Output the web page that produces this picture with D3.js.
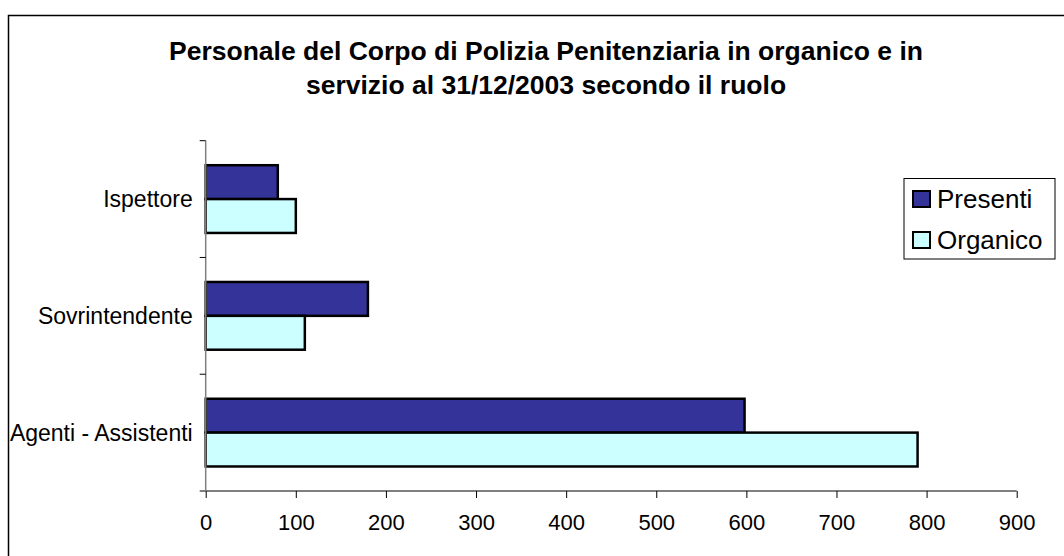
<!DOCTYPE html>
<html>
<head>
<meta charset="utf-8">
<script src="https://cdn.jsdelivr.net/npm/d3@7"></script>
<style>
  body { margin: 0; background: #fff; }
  svg text { font-family: "Liberation Sans", Arial, sans-serif; }
</style>
</head>
<body>
<svg id="chart" width="1064" height="556"></svg>
<script>
// data
var categories = ["Ispettore", "Sovrintendente", "Agenti - Assistenti"];
var seriesNames = ["Presenti", "Organico"];
var presenti = [80, 180, 598];
var organico = [100, 110, 790];
var xTicks = [0, 100, 200, 300, 400, 500, 600, 700, 800, 900];
var titleLines = ["Personale del Corpo di Polizia Penitenziaria in organico e in",
                  "servizio al 31/12/2003 secondo il ruolo"];

var colors = {Presenti: "#333399", Organico: "#CCFFFF"};

var svg = d3.select("#chart");

// outer chart frame (only top and left edges are inside the picture)
svg.append("rect")
    .attr("x", 8.5).attr("y", 15.5)
    .attr("width", 1200).attr("height", 700)
    .attr("fill", "none").attr("stroke", "#000").attr("stroke-width", 1.5);

var margin = {left: 205.7, right: 1016.7, top: 140.7, bottom: 491};

var x = d3.scaleLinear().domain([0, 900]).range([margin.left, margin.right]);
var y = d3.scaleBand().domain(categories).range([margin.top, margin.bottom]).paddingInner(0.42).paddingOuter(0.21);
var ySub = d3.scaleBand().domain(seriesNames).range([0, y.bandwidth()]);

// title
svg.append("g").selectAll("text")
    .data(titleLines)
    .enter().append("text")
    .attr("x", 546)
    .attr("y", function(d, i) { return 59.5 + i * 34.5; })
    .attr("text-anchor", "middle")
    .attr("font-size", 26.5)
    .attr("font-weight", "bold")
    .text(function(d) { return d; });

// bars
var rows = categories.map(function(c, i) {
    return {cat: c, vals: [{s: "Presenti", v: presenti[i]}, {s: "Organico", v: organico[i]}]};
});

var groups = svg.append("g").selectAll("g")
    .data(rows)
    .enter().append("g")
    .attr("transform", function(d) { return "translate(0," + y(d.cat) + ")"; });

groups.selectAll("rect")
    .data(function(d) { return d.vals; })
    .enter().append("rect")
    .attr("x", x(0))
    .attr("y", function(d) { return ySub(d.s); })
    .attr("width", function(d) { return x(d.v) - x(0); })
    .attr("height", ySub.bandwidth())
    .attr("fill", function(d) { return colors[d.s]; })
    .attr("stroke", "#000")
    .attr("stroke-width", 2.5);

// x axis
var xAxis = svg.append("g")
    .attr("transform", "translate(0," + margin.bottom + ")")
    .call(d3.axisBottom(x).tickValues(xTicks).tickSize(7).tickPadding(16).tickSizeOuter(0));
xAxis.select(".domain").attr("stroke", "#000").attr("d", "M" + (margin.left - 6) + ",0H" + margin.right);
xAxis.selectAll("text").attr("font-size", 22).attr("font-family", "Liberation Sans, Arial, sans-serif").attr("fill", "#000");

// y axis: ticks at the category boundaries
var boundaries = d3.range(categories.length + 1).map(function(i) {
    return margin.top + i * (margin.bottom - margin.top) / categories.length;
});
var yAxis = svg.append("g");
yAxis.append("line")
    .attr("x1", margin.left).attr("x2", margin.left)
    .attr("y1", margin.top).attr("y2", margin.bottom)
    .attr("stroke", "#808080").attr("stroke-width", 1.5);
yAxis.selectAll("line.tk")
    .data(boundaries.slice(0, categories.length))
    .enter().append("line")
    .attr("class", "tk")
    .attr("x1", margin.left - 6).attr("x2", margin.left)
    .attr("y1", function(d) { return d; }).attr("y2", function(d) { return d; })
    .attr("stroke", "#000");
yAxis.selectAll("text")
    .data(categories)
    .enter().append("text")
    .attr("x", margin.left - 13)
    .attr("y", function(d) { return y(d) + y.bandwidth() / 2; })
    .attr("dy", "0.35em")
    .attr("text-anchor", "end")
    .attr("font-size", 23)
    .text(function(d) { return d; });

// legend
var legend = svg.append("g").attr("transform", "translate(904,178.5)");
legend.append("rect")
    .attr("width", 151).attr("height", 80.5)
    .attr("fill", "#fff").attr("stroke", "#000").attr("stroke-width", 1);
var item = legend.selectAll("g.item")
    .data(seriesNames)
    .enter().append("g")
    .attr("class", "item")
    .attr("transform", function(d, i) { return "translate(0," + (20.5 + i * 41) + ")"; });
item.append("rect")
    .attr("x", 9).attr("y", -8).attr("width", 17).attr("height", 16)
    .attr("fill", function(d) { return colors[d]; })
    .attr("stroke", "#000").attr("stroke-width", 2);
item.append("text")
    .attr("x", 33).attr("dy", "0.35em")
    .attr("font-size", 26)
    .text(function(d) { return d; });
</script>
</body>
</html>
